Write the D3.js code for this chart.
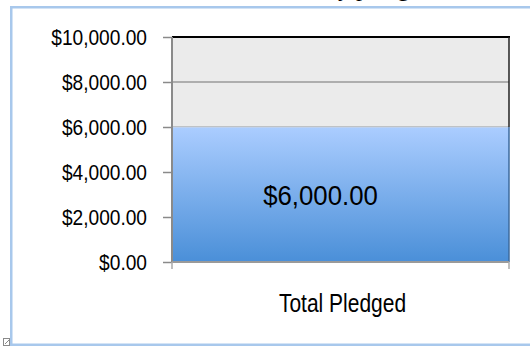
<!DOCTYPE html>
<html>
<head>
<meta charset="utf-8">
<script src="https://cdn.jsdelivr.net/npm/d3@7"></script>
<style>
  body { margin: 0; background: #fff; }
  svg { display: block; }
  text { font-family: "Liberation Sans", Arial, sans-serif; fill: #000; }
</style>
</head>
<body>
<svg id="chart" width="530" height="346"></svg>
<script>
// chart data
const categories = ["Total Pledged"];
const pledged = [6000];
const yTicks = [0, 2000, 4000, 6000, 8000, 10000];
const title = "Money pledged";

const fmt = d3.format("$,.2f");

const svg = d3.select("#chart");
const plot = {left: 172, right: 509, top: 37, bottom: 262};

const x = d3.scaleBand()
  .domain(categories)
  .range([plot.left, plot.right])
  .paddingInner(0).paddingOuter(0);

const y = d3.scaleLinear()
  .domain([0, 10000])
  .range([plot.bottom, plot.top]);

// gradient for the bar
const grad = svg.append("defs").append("linearGradient")
  .attr("id", "barGrad")
  .attr("x1", 0).attr("y1", 0).attr("x2", 0).attr("y2", 1);
grad.append("stop").attr("offset", "0%").attr("stop-color", "#abcdff");
grad.append("stop").attr("offset", "100%").attr("stop-color", "#4a8fd8");

// title, mostly cut off at the top
svg.append("text")
  .attr("x", 357).attr("y", -4)
  .attr("text-anchor", "middle")
  .style("font-family", "'Liberation Serif', 'Times New Roman', serif")
  .style("font-size", "24px")
  .text(title);

// outer frame
svg.append("rect")
  .attr("x", 11.25).attr("y", 7.25)
  .attr("width", 560).attr("height", 337.5)
  .attr("fill", "none")
  .attr("stroke", "#a8c8ec")
  .attr("stroke-width", 2.5);

// little icon bottom left
svg.append("rect")
  .attr("x", 3.5).attr("y", 338.5).attr("width", 6).attr("height", 7)
  .attr("fill", "none").attr("stroke", "#8a8a8a").attr("stroke-width", 1);
svg.append("line")
  .attr("x1", 5).attr("y1", 344).attr("x2", 9).attr("y2", 340)
  .attr("stroke", "#8a8a8a").attr("stroke-width", 1);

// plot background
svg.append("rect")
  .attr("x", plot.left).attr("y", plot.top)
  .attr("width", plot.right - plot.left).attr("height", plot.bottom - plot.top)
  .attr("fill", "#ebebeb");

// gridlines
svg.append("g")
  .selectAll("line")
  .data(yTicks.filter(d => d > 0 && d < 10000))
  .join("line")
  .attr("x1", plot.left).attr("x2", plot.right)
  .attr("y1", d => y(d)).attr("y2", d => y(d))
  .attr("stroke", "#9a9a9a")
  .attr("stroke-width", 1.5);

// bars
svg.append("g")
  .selectAll("rect")
  .data(pledged)
  .join("rect")
  .attr("x", (d, i) => x(categories[i]))
  .attr("y", d => y(d))
  .attr("width", x.bandwidth())
  .attr("height", d => y(0) - y(d))
  .attr("fill", "url(#barGrad)");

svg.append("g")
  .selectAll("line")
  .data(pledged)
  .join("line")
  .attr("x1", plot.left).attr("x2", plot.right)
  .attr("y1", d => y(d)).attr("y2", d => y(d))
  .attr("stroke", "#cfd6df")
  .attr("stroke-width", 1);

// top and right border of plot area
svg.append("line")
  .attr("x1", plot.left).attr("x2", plot.right + 1)
  .attr("y1", plot.top).attr("y2", plot.top)
  .attr("stroke", "#000").attr("stroke-width", 2);
svg.append("line")
  .attr("x1", plot.right).attr("x2", plot.right)
  .attr("y1", plot.top).attr("y2", y(pledged[0]))
  .attr("stroke", "#222").attr("stroke-width", 1.5);
svg.append("line")
  .attr("x1", plot.right).attr("x2", plot.right)
  .attr("y1", y(pledged[0])).attr("y2", plot.bottom)
  .attr("stroke", "#3c6a9c").attr("stroke-width", 1.5);

// y axis
const yAxis = svg.append("g")
  .attr("transform", `translate(${plot.left},0)`)
  .call(d3.axisLeft(y).tickValues(yTicks).tickSize(9).tickFormat(""));
yAxis.select(".domain").attr("stroke", "#8a8a8a").attr("stroke-width", 2)
  .attr("d", `M0,${plot.top}V${plot.bottom}`);
yAxis.selectAll(".tick line").attr("stroke", "#8a8a8a").attr("stroke-width", 1.5);

svg.append("g")
  .selectAll("text")
  .data(yTicks)
  .join("text")
  .attr("transform", d => `translate(147,${y(d) + 8}) scale(0.87,1)`)
  .attr("text-anchor", "end")
  .style("font-size", "22px")
  .text(d => fmt(d));

// x axis
const xAxis = svg.append("g")
  .attr("transform", `translate(0,${plot.bottom})`)
  .call(d3.axisBottom(x).tickSize(0).tickFormat(""));
xAxis.select(".domain").attr("stroke", "#9a9a9a").attr("stroke-width", 2)
  .attr("d", `M${plot.left},0H${plot.right}`);
xAxis.selectAll(".tick").remove();
xAxis.selectAll(".edge")
  .data([plot.left, plot.right])
  .join("line")
  .attr("x1", d => d).attr("x2", d => d)
  .attr("y1", 0).attr("y2", 7)
  .attr("stroke", "#aaaaaa").attr("stroke-width", 1.5);

svg.append("g")
  .selectAll("text")
  .data(categories)
  .join("text")
  .attr("transform", d => `translate(${x(d) + x.bandwidth() / 2 + 2},312) scale(0.84,1)`)
  .attr("text-anchor", "middle")
  .style("font-size", "25px")
  .text(d => d);

// value labels inside bars
svg.append("g")
  .selectAll("text")
  .data(pledged)
  .join("text")
  .attr("transform", (d, i) => `translate(${x(categories[i]) + x.bandwidth() / 2 - 20},${(y(d) + y(0)) / 2 + 10.5}) scale(0.92,1)`)
  .attr("text-anchor", "middle")
  .style("font-size", "28px")
  .text(d => fmt(d));
</script>
</body>
</html>
